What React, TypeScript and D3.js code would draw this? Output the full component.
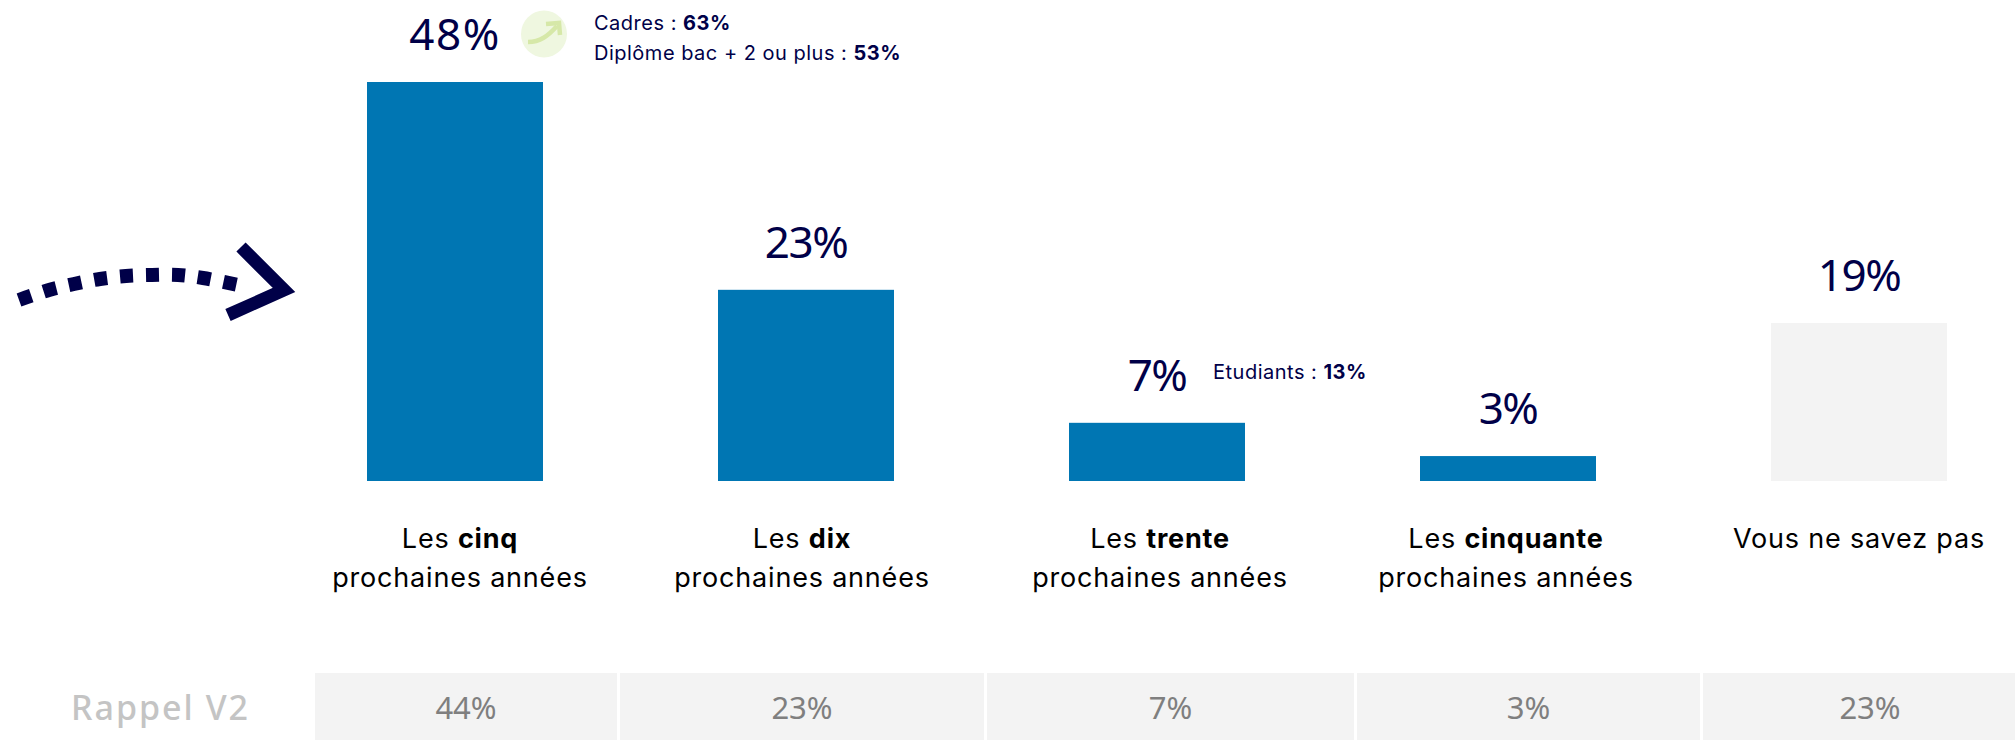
import React from 'react';
import * as d3 from 'd3';

const width = 2015;
const height = 740;

// categories
const leadWords = ['cinq', 'dix', 'trente', 'cinquante'];
const nspLabel = 'Vous ne savez pas';
const secondLine = 'prochaines années';
const categories = ['cinq', 'dix', 'trente', 'cinquante', 'nsp'];

// values (%)
const values = [48, 23, 7, 3, 19];
const rappel = [44, 23, 7, 3, 23];
const rappelLabel = 'Rappel V2';

const BLUE = '#0076b3';
const NAVY = '#000048';
const GREY = '#f3f3f3';

const bodyFont = 'Inter, sans-serif';
const numFont = '"Noto Sans", sans-serif';

// baseline at y = 481
const y = d3.scaleLinear().domain([0, 48]).range([481, 82]);

// bar centres
const cx = d3.scalePoint<string>().domain(categories).range([455, 1859]);
const barWidth = 176;
const barFill = d3.scaleOrdinal<string, string>().domain(categories).range([BLUE, BLUE, BLUE, BLUE, GREY]);

// labels under the bars sit slightly off the bar centres
const labelX = d3.scaleOrdinal<string, number>().domain(categories).range([460, 802, 1160, 1506, 1859]);

// recall strip
const cellEdges = [315, 620, 987, 1357, 1703, 2040];

const dotted: [number, number][] = [
  [19, 300], [49, 290], [74, 284], [100, 279], [126, 276], [152, 275], [178, 275], [203, 278], [238, 285],
];
const head: [number, number][] = [[241, 247], [284, 290], [228, 315]];
const line = d3.line();
const curve = d3.line().curve(d3.curveCatmullRom);

export default function App() {
  return (
    <svg
      width={width}
      height={height}
      viewBox={`0 0 ${width} ${height}`}
      style={{ position: 'fixed', left: 0, top: 0, background: '#fff' }}
    >
      <path d={curve(dotted) ?? ''} fill="none" stroke={NAVY} strokeWidth={14} strokeDasharray="13 13" />
      <path d={line(head) ?? ''} fill="none" stroke={NAVY} strokeWidth={13} strokeMiterlimit={10} />

      {categories.map((c, i) => (
        <g key={c}>
          <rect
            x={(cx(c) ?? 0) - barWidth / 2}
            y={y(values[i])}
            width={barWidth}
            height={y(0) - y(values[i])}
            fill={barFill(c)}
          />
          <text
            x={cx(c)}
            y={y(values[i]) - 32}
            textAnchor="middle"
            fontFamily={numFont}
            fontSize={44}
            letterSpacing={i === 0 ? 1.5 : -1.5}
            fill={NAVY}
          >
            {values[i]}%
          </text>
        </g>
      ))}

      <g fontFamily={bodyFont} fontSize={27} letterSpacing={0.8} fill="#000" textAnchor="middle">
        {leadWords.map((w) => (
          <text key={w}>
            <tspan x={labelX(w)} y={548}>
              Les <tspan fontWeight={700}>{w}</tspan>
            </tspan>
            <tspan x={labelX(w)} y={587}>
              {secondLine}
            </tspan>
          </text>
        ))}
        <text x={labelX('nsp')} y={548}>
          {nspLabel}
        </text>
      </g>

      {/* trend icon */}
      <ellipse cx={544} cy={34} rx={23} ry={23.5} fill="#eff7e0" />
      <path d="M528,42 C540,42 548,36 557,26" fill="none" stroke="#d6e8a8" strokeWidth={4.5} />
      <path d="M546,24 L559,23 L560,35" fill="none" stroke="#d6e8a8" strokeWidth={4.5} />

      <g fontFamily={bodyFont} fontSize={20} letterSpacing={0.5} fill={NAVY}>
        <text x={594} y={30}>
          Cadres : <tspan fontWeight={700}>63%</tspan>
        </text>
        <text x={594} y={60}>
          Diplôme bac + 2 ou plus : <tspan fontWeight={700}>53%</tspan>
        </text>
        <text x={1213} y={379}>
          Etudiants : <tspan fontWeight={700}>13%</tspan>
        </text>
      </g>

      {rappel.map((v, i) => (
        <g key={i}>
          <rect x={cellEdges[i]} y={673} width={cellEdges[i + 1] - cellEdges[i] - 3} height={67} fill={GREY} />
          <text
            x={(cellEdges[i] + cellEdges[i + 1] - 3) / 2}
            y={719}
            textAnchor="middle"
            fontFamily={numFont}
            fontSize={31}
            fill="#7f7f7f"
          >
            {v}%
          </text>
        </g>
      ))}
      <text x={71} y={720} fontFamily={numFont} fontWeight={500} fontSize={34} letterSpacing={2} fill="#c4c4c4">
        {rappelLabel}
      </text>
    </svg>
  );
}
